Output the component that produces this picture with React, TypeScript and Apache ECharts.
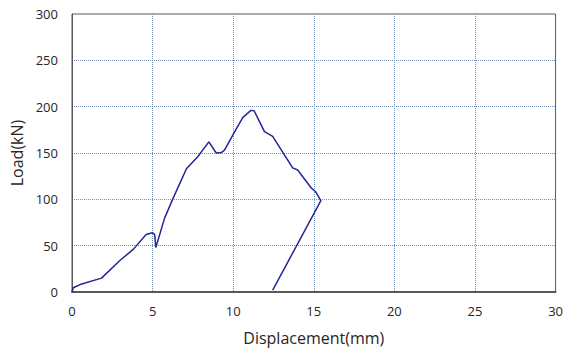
import React, { useEffect, useRef } from "react";
import * as echarts from "echarts";

const displacement = [0, 0.08, 0.5, 1.83, 2.97, 3.8, 4.6, 4.99, 5.13, 5.2, 5.75, 6.27, 7.1, 7.8, 8.49, 8.95, 9.26, 9.46, 10.08, 10.6, 11.1, 11.3, 11.94, 12.45, 13.07, 13.69, 14.0, 14.82, 15.1, 15.44, 12.45];
const load = [0, 4.6, 8, 15, 34, 46, 62, 64, 62, 48, 80, 101, 133, 146, 162, 150, 150.5, 153, 172.5, 188.5, 196, 195.6, 173, 168, 151, 134, 131.6, 112.7, 108.5, 98.5, 2];
const xTicks = [0, 5, 10, 15, 20, 25, 30];
const yTicks = [0, 50, 100, 150, 200, 250, 300];

export default function App() {
  const ref = useRef<HTMLDivElement>(null);
  useEffect(() => {
    if (!ref.current) return;
    const chart = echarts.init(ref.current, null, { renderer: "svg" });
    const font = "'Open Sans', 'Noto Sans', sans-serif";
    const split = { show: true, showMinLine: false, showMaxLine: false, lineStyle: { color: "#6f8fb5", type: [1, 1], width: 1 } };
    chart.setOption({
      animation: false,
      grid: { left: 72, right: 9, top: 14, bottom: 56, show: true, borderColor: "#595959", borderWidth: 1 },
      xAxis: {
        type: "value",
        min: xTicks[0],
        max: xTicks[xTicks.length - 1],
        interval: 5,
        name: "Displacement(mm)",
        nameLocation: "middle",
        nameGap: 38,
        nameTextStyle: { fontSize: 16, color: "#262626", fontFamily: font },
        axisLine: { show: true, lineStyle: { color: "#595959", width: 2 } },
        axisTick: { show: false },
        axisLabel: { fontSize: 13, color: "#262626", fontFamily: font, margin: 12 },
        splitLine: split,
      },
      yAxis: {
        type: "value",
        min: yTicks[0],
        max: yTicks[yTicks.length - 1],
        interval: 50,
        name: "Load(kN)",
        nameLocation: "middle",
        nameGap: 46,
        nameRotate: 90,
        nameTextStyle: { fontSize: 16, color: "#262626", fontFamily: font },
        axisLine: { show: true, lineStyle: { color: "#595959", width: 1 } },
        axisTick: { show: false },
        axisLabel: { fontSize: 13, color: "#262626", fontFamily: font, margin: 14 },
        splitLine: split,
      },
      series: [
        {
          type: "line",
          data: displacement.map((d, i) => [d, load[i]]),
          showSymbol: false,
          smooth: false,
          lineStyle: { color: "#25259a", width: 1.5 },
        },
      ],
    });
    return () => chart.dispose();
  }, []);
  return <div ref={ref} style={{ width: 566, height: 351, position: "absolute", left: 0, top: 0, background: "#fff" }} />;
}
